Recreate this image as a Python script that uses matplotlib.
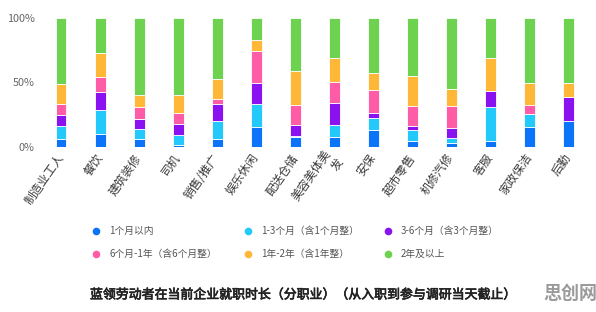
import numpy as np
import matplotlib.pyplot as plt
import matplotlib.patheffects as pe
from matplotlib.lines import Line2D

plt.rcParams['font.family'] = ['Noto Sans CJK SC', 'DejaVu Sans']

jobs = ['制造业工人', '餐饮', '建筑装修', '司机', '销售/推广', '娱乐休闲', '配送仓储',
        '美容美体美\n发', '安保', '超市零售', '机修汽修', '客服', '家政保洁', '后勤']
series = ['1个月以内', '1-3个月（含1个月整）', '3-6个月（含3个月整）',
          '6个月-1年（含6个月整）', '1年-2年（含1年整）', '2年及以上']

lt_1m = [6, 10, 6, 1.5, 6, 15.5, 8, 8, 13, 5, 3, 4.7, 15.7, 20]
m1_3 = [10, 19, 8, 7.5, 14, 18, 0.3, 9, 9.5, 8.5, 4, 26, 9.5, 0]
m3_6 = [9, 14, 7.5, 8.5, 13, 16, 8.5, 17, 4, 3, 8, 13, 0, 19]
m6_12 = [8, 11, 9.5, 9, 4, 25, 16, 16.5, 17.5, 15.5, 16.5, 0, 7, 0]
y1_2 = [16, 19, 9.5, 14, 16, 8.5, 26.5, 18.5, 13, 23, 13.5, 25, 17.5, 11]
y2_plus = [51, 27, 59.5, 59.5, 47, 17, 40.7, 31, 43, 45, 55, 31.3, 50.3, 50]

colors = ['#0B74F8', '#23C9FA', '#8A12F0', '#FF5CA8', '#FFB737', '#6CD24F']

values = np.array([lt_1m, m1_3, m3_6, m6_12, y1_2, y2_plus], dtype=float)
values = values / values.sum(axis=0) * 100

W, H = 596, 312
fig = plt.figure(figsize=(W / 100, H / 100), dpi=100)
ax = fig.add_axes([41.5 / W, 1 - 147 / H, 546.5 / W, 129 / H])

x = np.arange(len(jobs))
bottom = np.zeros(len(jobs))
for vals, c in zip(values, colors):
    ax.bar(x, vals, 0.28, bottom=bottom, color=c, edgecolor='white', linewidth=0.6)
    bottom += vals

ax.set_xlim(-0.5, len(jobs) - 0.5)
ax.set_ylim(0, 100)
ax.set_yticks([0, 50, 100])
ax.set_yticklabels(['0%', '50%', '100%'])
ax.set_xticks(x)
ax.set_xticklabels(jobs, rotation=55, ha='right', va='center', rotation_mode='anchor',
                   fontsize=8.5, color='#3a3a3a')
ax.tick_params(axis='y', length=0, pad=5, labelsize=7.8, labelcolor='#666666')
ax.tick_params(axis='x', length=0, pad=6)
for s in ax.spines.values():
    s.set_visible(False)

# legend, placed by hand
col_x = [96, 248, 388]
row_y = [231, 254]
for i, (name, c) in enumerate(zip(series, colors)):
    px = col_x[i % 3]
    py = row_y[i // 3]
    fig.add_artist(Line2D([px / W], [1 - py / H], marker='o', markersize=5.5, color=c,
                          markeredgewidth=0, transform=fig.transFigure))
    fig.text((px + 13) / W, 1 - py / H, name, fontsize=7, color='#555555',
             va='center', ha='left')

# title: regular weight with a thin stroke to look medium
fig.text(90 / W, 1 - 295 / H, '蓝领劳动者在当前企业就职时长（分职业）（从入职到参与调研当天截止）',
         fontsize=9.3, color='#222222', va='center', ha='left',
         path_effects=[pe.withStroke(linewidth=0.5, foreground='#222222')])
fig.text(543 / W, 1 - 293 / H, '思创网', fontsize=13, fontweight='bold', color='#9a9a9a',
         va='center', ha='left')

fig.savefig('out.png', dpi=100)
